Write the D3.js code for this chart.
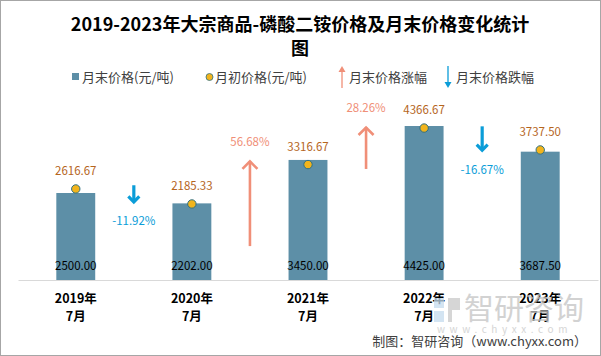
<!DOCTYPE html>
<html><head><meta charset="utf-8">
<script src="https://cdn.jsdelivr.net/npm/d3@7"></script>
<style>
body{margin:0;background:#fff;}
svg{display:block;font-family:"Noto Sans CJK SC","Microsoft YaHei",sans-serif;}
</style></head>
<body>
<svg id="chart" width="601" height="356"></svg>
<script>
const categories = ["2019年|7月","2020年|7月","2021年|7月","2022年|7月","2023年|7月"];
const endPrices = [2500.00, 2202.00, 3450.00, 4425.00, 3687.50];
const startPrices = [2616.67, 2185.33, 3316.67, 4366.67, 3737.50];
const changePct = [-11.92, 56.68, 28.26, -16.67];
const titleLines = ["2019-2023年大宗商品-磷酸二铵价格及月末价格变化统计","图"];
const legendLabels = ["月末价格(元/吨)","月初价格(元/吨)","月末价格涨幅","月末价格跌幅"];
const sourceText = "制图：智研咨询（www.chyxx.com）";

const svg = d3.select("#chart");
const W = 601, H = 356;
const C = {bar:"#5d8fa7", dotFill:"#f2b41c", dotStroke:"#2f7083", val:"#b5651d", up:"#f08f78", down:"#0b9dd8"};

svg.append("rect").attr("x",0.5).attr("y",0.5).attr("width",W-1).attr("height",H-1)
  .attr("fill","#fff").attr("stroke","#a6a6a6");

// title
svg.append("g").selectAll("text").data(titleLines).join("text")
  .attr("x",300).attr("y",(d,i)=>31+i*24).attr("text-anchor","middle")
  .attr("font-size",18).attr("font-weight","bold").attr("fill","#000").text(d=>d);

const x = d3.scaleBand().domain(categories).range([18,598]).paddingInner(0.665).paddingOuter(0.33);
const y = d3.scaleLinear().domain([0,5000]).range([280,106]);
const pctLen = d3.scaleLinear().domain([0,100]).range([0,152]);
const cx = d => x(d) + x.bandwidth()/2;

// bars
svg.append("g").selectAll("rect").data(endPrices).join("rect")
  .attr("x",(d,i)=>x(categories[i])).attr("width",x.bandwidth())
  .attr("y",d=>y(d)).attr("height",d=>y(0)-y(d)).attr("fill",C.bar);

// axis
const xAxis = svg.append("g").attr("transform","translate(0,280)")
  .call(d3.axisBottom(x).tickSize(0).tickFormat(""));
xAxis.select(".domain").attr("stroke","#d9d9d9");
const tl = svg.append("g").selectAll("text").data(categories).join("text")
  .attr("x",d=>cx(d)).attr("text-anchor","middle").attr("font-size",12.5)
  .attr("font-weight","bold").attr("fill","#000");
tl.append("tspan").attr("x",d=>cx(d)).attr("y",303).text(d=>d.split("|")[0]);
tl.append("tspan").attr("x",d=>cx(d)).attr("y",321).text(d=>d.split("|")[1]);

// bar value labels (bottom inside)
svg.append("g").selectAll("text").data(endPrices).join("text")
  .attr("x",(d,i)=>cx(categories[i])).attr("y",270).attr("text-anchor","middle")
  .attr("font-size",11.5).attr("fill","#000").text(d=>d.toFixed(2));

// start price dots
svg.append("g").selectAll("circle").data(startPrices).join("circle")
  .attr("cx",(d,i)=>cx(categories[i])).attr("cy",d=>y(d)).attr("r",4.2)
  .attr("fill",C.dotFill).attr("stroke",C.dotStroke).attr("stroke-width",1);
svg.append("g").selectAll("text").data(startPrices).join("text")
  .attr("x",(d,i)=>cx(categories[i])).attr("y",d=>y(d)-14).attr("text-anchor","middle")
  .attr("font-size",11.5).attr("fill",C.val).text(d=>d.toFixed(2));

// change arrows
const ag = svg.append("g");
changePct.forEach((p,i)=>{
  const mx = (cx(categories[i]) + cx(categories[i+1]))/2;
  const end = y(endPrices[i+1]);
  const len = pctLen(Math.abs(p));
  const g = ag.append("g");
  if (p >= 0) {
    const top = end, bot = end + len;
    g.append("line").attr("x1",mx).attr("x2",mx).attr("y1",bot).attr("y2",top+1)
      .attr("stroke",C.up).attr("stroke-width",2.6);
    g.append("path").attr("d",`M${mx-7.5},${top+9}L${mx},${top+1.5}L${mx+7.5},${top+9}`)
      .attr("fill","none").attr("stroke",C.up).attr("stroke-width",2.6);
    g.append("text").attr("x",mx).attr("y",top-14).attr("text-anchor","middle")
      .attr("font-size",11.5).attr("fill",C.up).text(p.toFixed(2)+"%");
  } else {
    const bot = end, top = end - len;
    g.append("line").attr("x1",mx).attr("x2",mx).attr("y1",top).attr("y2",bot-2)
      .attr("stroke",C.down).attr("stroke-width",3.2);
    g.append("path").attr("d",`M${mx-5.5},${bot-7}L${mx},${bot-1.5}L${mx+5.5},${bot-7}`)
      .attr("fill","none").attr("stroke",C.down).attr("stroke-width",3.2);
    g.append("text").attr("x",mx).attr("y",bot+22).attr("text-anchor","middle")
      .attr("font-size",11.5).attr("fill",C.down).text(p.toFixed(2)+"%");
  }
});

// legend
const lg = svg.append("g").attr("font-size",13).attr("fill","#404040");
const lx = [72, 206, 342, 448];
lg.append("rect").attr("x",lx[0]).attr("y",73).attr("width",7).attr("height",7).attr("fill",C.bar);
lg.append("circle").attr("cx",lx[1]+3.5).attr("cy",77).attr("r",3.5).attr("fill",C.dotFill).attr("stroke",C.dotStroke).attr("stroke-width",0.8);
lg.append("line").attr("x1",lx[2]).attr("x2",lx[2]).attr("y1",88).attr("y2",70).attr("stroke",C.up).attr("stroke-width",1.3);
lg.append("path").attr("d",`M${lx[2]-3.5},${72}L${lx[2]},${66}L${lx[2]+3.5},${72}Z`).attr("fill",C.up);
lg.append("line").attr("x1",lx[3]).attr("x2",lx[3]).attr("y1",66).attr("y2",84).attr("stroke",C.down).attr("stroke-width",1.3);
lg.append("path").attr("d",`M${lx[3]-3.5},${82}L${lx[3]},${88}L${lx[3]+3.5},${82}Z`).attr("fill",C.down);
const ltx = [82, 215, 349, 456];
lg.selectAll("text").data(legendLabels).join("text")
  .attr("x",(d,i)=>ltx[i]).attr("y",82).text(d=>d);

// watermark
const wm = svg.append("g").attr("opacity",0.75);
wm.append("rect").attr("x",434).attr("y",298).attr("width",10).attr("height",10).attr("fill","#c5dcee");
wm.append("rect").attr("x",434).attr("y",311).attr("width",10).attr("height",11).attr("fill","#c5dcee");
wm.append("path").attr("d","M448,298h12v12h-8v12h-4z").attr("fill","#c9c9c9");
wm.append("text").attr("x",524).attr("y",319).attr("text-anchor","middle").attr("font-size",30)
  .attr("fill","#c4c4c4").text("智研咨询");
wm.append("text").attr("x",437).attr("y",333).attr("font-size",10).attr("letter-spacing",4.6)
  .attr("fill","#c8c8c8").text("www.chyxx.com");

// source
svg.append("text").attr("x",587).attr("y",346).attr("text-anchor","end")
  .attr("font-size",13).attr("fill","#404040").text(sourceText);
</script>
</body></html>
